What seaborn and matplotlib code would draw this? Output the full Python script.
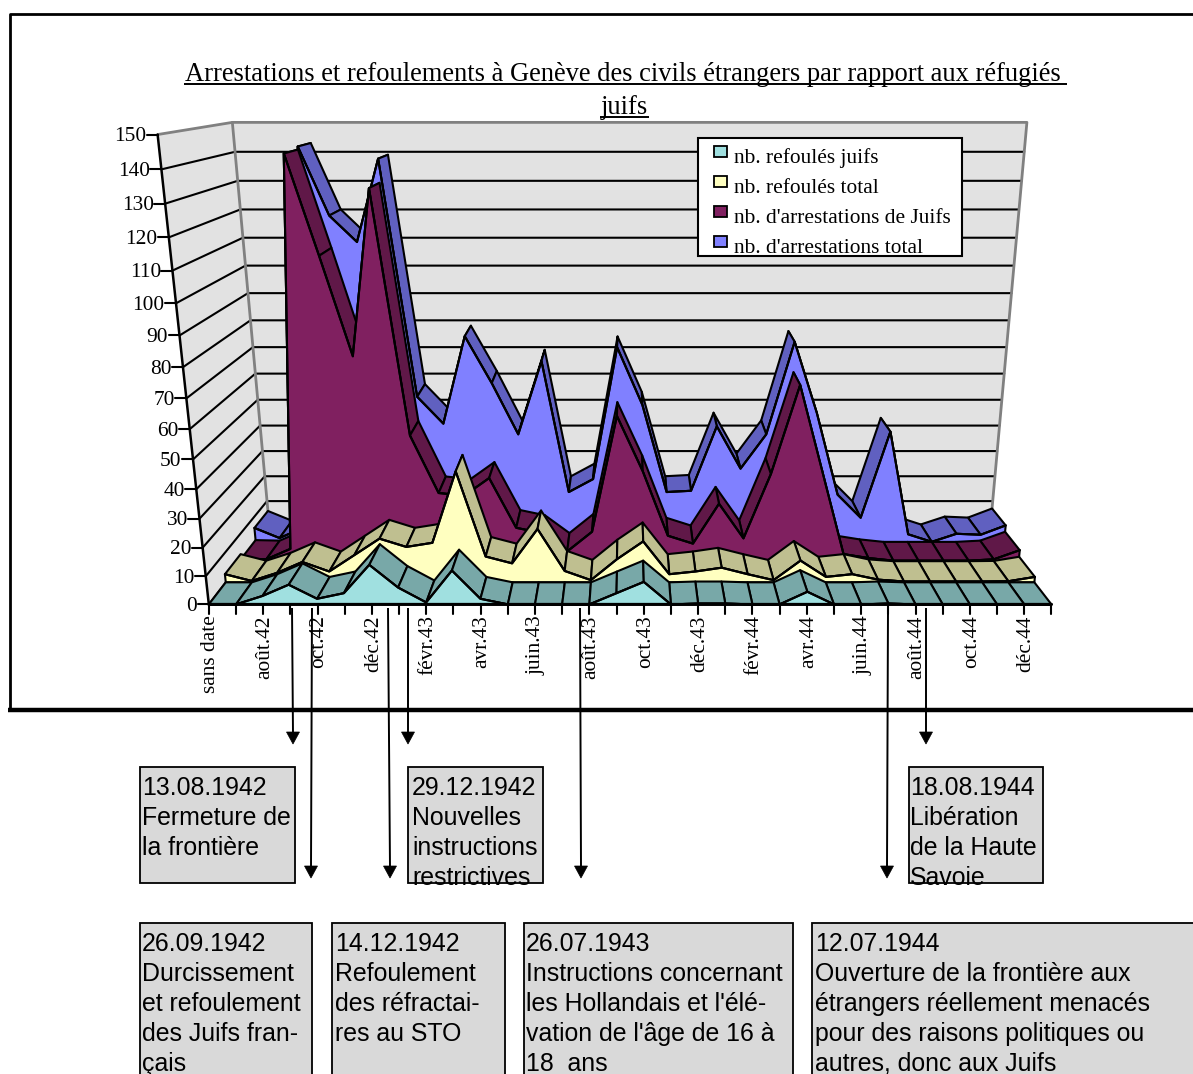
# Arrestations et refoulements a Geneve - pseudo 3D area chart
import numpy as np
import matplotlib
matplotlib.use("Agg")
import matplotlib.pyplot as plt
from matplotlib.patches import Polygon, Rectangle
import seaborn as sns

# Categories (every month, only one in two is labelled)
tick_labels = ["sans date", "août.42", "oct.42", "déc.42", "févr.43", "avr.43", "juin.43", "août.43",
               "oct.43", "déc.43", "févr.44", "avr.44", "juin.44", "août.44", "oct.44", "déc.44"]
y_ticks = list(range(0, 160, 10))

# Series values, one per month
refoules_juifs = [0, 0, 3, 7, 2, 4, 14, 6, 0.7, 12, 2, 0, 0, 0, 0, 4, 8, 0, 0.3, 0.3, 0, 0, 4.5, 0, 0, 0.3, 0, 0, 0, 0, 0, 0]
refoules_total = [3, 0.5, 3.5, 7.5, 4, 10, 16, 13, 14.5, 40, 9.5, 7, 19.5, 4.2, 0.8, 8.5, 15, 3, 4, 5.4, 3, 0.8, 8, 2, 3, 1, 0.3, 0.3, 0.3, 0.3, 0.4, 2]
arrestations_juifs = [1.2, 1, 5, 142, 109, 75, 131, 47, 26, 25, 31.5, 13, 11, 4, 11.5, 54, 34, 10, 7, 22, 9, 33, 65, 34, 3, 1.5, 0.5, 0.5, 0.5, 0.5, 1, 4.5]
arrestations_total = [6, 2, 6, 143, 120, 111, 139, 56, 46, 78, 61, 42, 69, 20, 25, 74, 53, 20, 20.5, 45, 29, 42, 76, 50, 19, 10, 43, 3.5, 0.5, 3.7, 3.3, 7]

series_names = ["nb. refoulés juifs", "nb. refoulés total", "nb. d'arrestations de Juifs", "nb. d'arrestations total"]
series_values = [refoules_juifs, refoules_total, arrestations_juifs, arrestations_total]
front_colors = ["#A0E0E0", "#FFFFC0", "#802060", "#8080FF"]
top_colors = ["#78A8A8", "#BFBF90", "#601848", "#6060C0"]

# box left, right, top, bottom, text left, lines
annotations = [
    (140, 295, 767, 883, 142, ["13.08.1942", "Fermeture de", "la frontière"]),
    (408, 543, 767, 883, 412, ["29.12.1942", "Nouvelles", "instructions", "restrictives"]),
    (909, 1043, 767, 883, 910, ["18.08.1944", "Libération", "de la Haute", "Savoie"]),
    (140, 312, 923, 1090, 142, ["26.09.1942", "Durcissement", "et refoulement", "des Juifs fran-", "çais"]),
    (332, 505, 923, 1090, 335, ["14.12.1942", "Refoulement", "des réfractai-", "res au STO"]),
    (524, 793, 923, 1090, 526, ["26.07.1943", "Instructions concernant", "les Hollandais et l'élé-", "vation de l'âge de 16 à", "18  ans"]),
    (812, 1200, 923, 1090, 815, ["12.07.1944", "Ouverture de la frontière aux", "étrangers réellement menacés", "pour des raisons politiques ou", "autres, donc aux Juifs"]),
]
arrows = [(292, 293, 744), (312, 311, 878), (388, 390, 878), (408, 408, 744), (580, 581, 878), (888, 887, 878), (926, 926, 744)]

sns.set_style("white")
plt.rcParams["text.color"] = "black"
fig = plt.figure(figsize=(11.93, 10.74), dpi=100)
ax = fig.add_axes([0, 0, 1, 1])

# Perspective of the chart box: corners (u, v, d) -> picture position
corners = [((0, 0, 0), (208, 604)), ((1, 0, 0), (1052, 604)), ((0, 1, 0), (158, 135)), ((1, 1, 0), (1102, 135)),
           ((0, 0, 1), (270, 526)), ((1, 0, 1), (990, 526)), ((0, 1, 1), (232, 122)), ((1, 1, 1), (1027, 122))]
rows = []
for (u, v, d), (px, py) in corners:
    rows.append([u, v, d, 1, 0, 0, 0, 0, -px * u, -px * v, -px * d, -px])
    rows.append([0, 0, 0, 0, u, v, d, 1, -py * u, -py * v, -py * d, -py])
P = np.linalg.svd(np.array(rows, dtype=float))[2][-1].reshape(3, 4)

n_months = len(refoules_juifs)


def project(month, value, depth):
    month, value, depth = np.broadcast_arrays(np.asarray(month, float), np.asarray(value, float), np.asarray(depth, float))
    pts = np.stack([month / (n_months - 1), value / 150, depth, np.ones_like(month)])
    h = P @ pts
    return h[0] / h[2], h[1] / h[2]


def face(month, value, depth, fc, z, lw=1.5, ec="black"):
    x, y = project(month, value, depth)
    ax.add_patch(Polygon(np.column_stack([x, y]), closed=True, fc=fc, ec=ec, lw=lw, zorder=z, joinstyle="round"))


# Walls
face([0, 0, 0, 0], [0, 150, 150, 0], [0, 0, 1, 1], "#E2E2E2", 1, ec="none")
face([0, n_months - 1, n_months - 1, 0], [0, 0, 150, 150], [1, 1, 1, 1], "#E2E2E2", 1, ec="none")
for tick in y_ticks[:-1]:
    x, y = project([0, 0, n_months - 1], [tick] * 3, [0, 1, 1])
    ax.plot(x, y, color="black", lw=1.5, zorder=2)
x, y = project([0, 0, 0], [150, 150, 0], [0, 1, 1])
ax.plot(x, y, color="#808080", lw=2, zorder=2)
x, y = project([0, n_months - 1, n_months - 1], [150, 150, 0], [1, 1, 1])
ax.plot(x, y, color="#808080", lw=2, zorder=2)

# Series, from the back to the front
z = 3
months = np.arange(n_months)
centre = n_months / 2
for k in range(3, -1, -1):
    vals = np.array(series_values[k], float)
    d0, d1 = k / 4, (k + 1) / 4
    segs = [i for i in range(n_months - 1) if i + 1 <= centre] + [i for i in range(n_months - 2, -1, -1) if i + 1 > centre]
    for i in segs:
        face([i, i + 1, i + 1, i], [vals[i], vals[i + 1], vals[i + 1], vals[i]], [d0, d0, d1, d1], top_colors[k], z)
        z += 1
    face(np.r_[months, n_months - 1, 0], np.r_[vals, 0, 0], d0, front_colors[k], z)
    z += 1
    x, y = project(months, vals, d0)
    sns.lineplot(x=x, y=y, sort=False, estimator=None, color="black", lw=1.5, zorder=z, ax=ax, legend=False)
    z += 1

# Axes, ticks and labels
x, y = project([0, n_months - 1], [0, 0], [0, 0])
ax.plot(x, y, color="black", lw=2.2, zorder=z)
for i in months:
    x, y = project(i, 0, 0)
    ax.plot([x, x], [y, y + 10], color="black", lw=1.5, zorder=z)
for j, label in enumerate(tick_labels):
    x, y = project(2 * j, 0, 0)
    ax.text(x + 1.5, y + 11, label, rotation=90, ha="center", va="top", family="Liberation Serif", fontsize=15.4, zorder=z)
x, y = project([0, 0], [0, 150], [0, 0])
ax.plot(x, y, color="black", lw=1.8, zorder=z)
for tick in y_ticks:
    x, y = project(0, tick, 0)
    ax.plot([x - 11, x], [y, y], color="black", lw=1.5, zorder=z)
    ax.text(x - 11.5, y + 2, str(tick), ha="right", va="center", family="Liberation Serif", fontsize=15.4, zorder=z)

# Title
ax.text(623, 81, "Arrestations et refoulements à Genève des civils étrangers par rapport aux réfugiés",
        ha="center", va="baseline", family="Liberation Serif", fontsize=19.1, zorder=z)
ax.plot([184, 1067], [84, 84], color="black", lw=1.4, zorder=z, solid_capstyle="butt")
ax.text(624, 114, "juifs", ha="center", va="baseline", family="Liberation Serif", fontsize=19.1, zorder=z)
ax.plot([600, 649], [117, 117], color="black", lw=1.4, zorder=z, solid_capstyle="butt")

# Legend
z += 1
ax.add_patch(Rectangle((698, 138), 264, 118, fc="white", ec="black", lw=1.5, zorder=z))
for k, name in enumerate(series_names):
    ax.add_patch(Rectangle((714, 146 + 30 * k), 13, 11, fc=front_colors[k], ec="black", lw=1.3, zorder=z))
    ax.text(734, 163 + 30 * k, name, ha="left", va="baseline", family="Liberation Serif", fontsize=15.4, zorder=z)

# Outer frame
ax.plot([1193, 9.7, 9.7], [13.7, 13.7, 710], color="black", lw=2, zorder=z, solid_capstyle="butt")
ax.plot([8.3, 1193], [710.3, 710.3], color="black", lw=3.2, zorder=z, solid_capstyle="butt")

# Arrows and event boxes
for x0, x1, tip in arrows:
    ax.plot([x0, x1], [608, tip - 10], color="black", lw=1.4, zorder=z, solid_capstyle="butt")
    ax.add_patch(Polygon([(x1 - 6.5, tip - 12), (x1 + 6.5, tip - 12), (x1, tip)], fc="black", ec="black", lw=0.5, zorder=z))
for x0, x1, y0, y1, text_x, lines in annotations:
    ax.add_patch(Rectangle((x0, y0), x1 - x0, y1 - y0, fc="#D9D9D9", ec="black", lw=1.3, zorder=z))
    # text is cut off by the inside of the box
    clip = Rectangle((x0, y0), x1 - x0, y1 - y0 - 2, transform=ax.transData)
    for r, line in enumerate(lines):
        t = ax.text(text_x, y0 + 28 + 30 * r, line, ha="left", va="baseline", family="Liberation Sans", fontsize=17.9, zorder=z + 1)
        t.set_clip_path(clip)

ax.set_xlim(0, 1193)
ax.set_ylim(1074, 0)
ax.axis("off")
fig.savefig("out.png", dpi=100)
